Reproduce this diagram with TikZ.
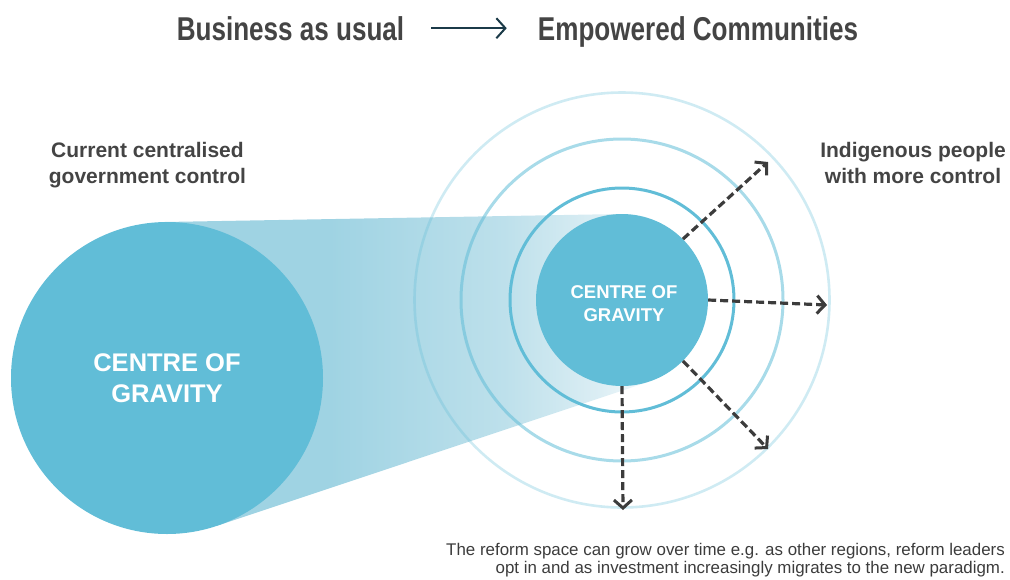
\documentclass[tikz,border=0pt]{standalone}
\usepackage{fontspec}
\setmainfont{Liberation Sans}
\newfontfamily\titlefont[FakeStretch=0.79]{Liberation Sans Bold}
\usetikzlibrary{arrows.meta}
\definecolor{cog}{HTML}{61BDD7}
\definecolor{txt}{HTML}{444444}
\definecolor{dash}{HTML}{3C3C3C}
\definecolor{navy}{HTML}{1B3A48}
\definecolor{beamA}{HTML}{9FD3E3}
\definecolor{beamB}{HTML}{BDE0EB}
\definecolor{beamC}{HTML}{DCEEF4}
\definecolor{beamD}{HTML}{F4FAFC}
\pgfdeclarehorizontalshading{beamshade}{100bp}{color(0bp)=(beamA); color(42bp)=(beamA); color(60bp)=(beamB); color(70bp)=(beamC); color(75bp)=(beamD); color(100bp)=(beamD)}
\begin{document}
\begin{tikzpicture}[x=1pt,y=-1pt,
  titletext/.style={text=txt, inner sep=0pt, anchor=base, font=\titlefont\fontsize{33}{38}\selectfont},
  sidelabel/.style={text=txt, inner sep=0pt, anchor=base, font=\bfseries\fontsize{21}{26}\selectfont},
  notetext/.style={text=dash, inner sep=0pt, anchor=base east, font=\fontsize{16.9}{18}\selectfont},
  cogbig/.style={circle, fill=cog, minimum size=312pt, inner sep=0pt, text=white, align=center, font=\bfseries\fontsize{25.5}{31}\selectfont},
  cogsmall/.style={circle, fill=cog, minimum size=172pt, inner sep=0pt},
  cogsmalltext/.style={text=white, align=center, inner sep=0pt, font=\bfseries\fontsize{18.5}{23}\selectfont},
  ringline/.style={draw=cog, line width=#1},
  growarrow/.style={draw=dash, line width=3.2pt, dash pattern=on 8pt off 4pt, -{Straight Barb[length=8pt,width=18pt,line width=3pt]}}
]
\useasboundingbox (0,0) rectangle (1010,579);
% beam between the two centres of gravity
\shade[shading=beamshade] (164.3,222) -- (620.5,214) -- (649.2,381.6) -- (216.4,526) -- cycle;
% rings
\draw[ringline=2.6pt, draw opacity=0.3] (622,300) circle[radius=207.5];
\draw[ringline=3pt, draw opacity=0.55] (622,300) circle[radius=161];
\draw[ringline=3pt] (622,300) circle[radius=112];
% circles
\node[cogbig] (big) at (167,378) {CENTRE OF\\GRAVITY};
\node[cogsmall] (small) at (622,300) {};
\node[cogsmalltext] (smalltext) at (624,304) {CENTRE OF\\GRAVITY};
% growth arrows
\coordinate (ne) at (768,162);
\coordinate (e) at (827,305);
\coordinate (se) at (768,449);
\coordinate (s) at (623,510);
\draw[growarrow] (small.45) -- (ne);
\draw[growarrow] (small.0) -- (e);
\draw[growarrow] (small.-45) -- (se);
\draw[growarrow] (small.-90) -- (s);
% title
\node[titletext] (bau) at (290.5,40) {Business as usual};
\node[titletext] (emp) at (698,40) {Empowered Communities};
\draw[navy, line width=2pt, -{Straight Barb[length=9pt,width=20pt,line width=2pt]}] ([xshift=27pt]bau.east) -- ([xshift=-31pt]bau.east -| emp.west);
% side labels
\node[sidelabel] (cur1) at (147.5,157.5) {Current centralised};
\node[sidelabel] (cur2) at (147.5,183.5) {government control};
\node[sidelabel] (ind1) at (913,157.5) {Indigenous people};
\node[sidelabel] (ind2) at (913,183.5) {with more control};
% note
\node[notetext] (n1) at (1005,555.7) {The reform space can grow over time e.g. as other regions, reform leaders};
\node[notetext] (n2) at (1005,573.7) {opt in and as investment increasingly migrates to the new paradigm.};
\end{tikzpicture}
\end{document}
